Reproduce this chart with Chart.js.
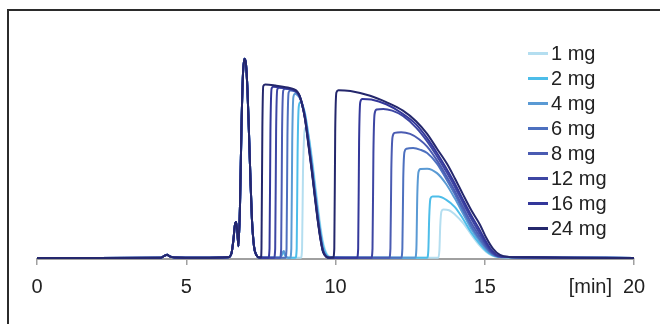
<!DOCTYPE html>
<html>
<head>
<meta charset="utf-8">
<script src="https://cdn.jsdelivr.net/npm/chart.js@4/dist/chart.umd.min.js"></script>
<style>
  html, body { margin: 0; padding: 0; background: #fff; }
  #wrap { position: relative; width: 660px; height: 324px; overflow: hidden; }
  #frame { position: absolute; left: 7px; top: 9px; right: -10px; bottom: -10px;
           border-top: 2px solid #2b2b2b; border-left: 2px solid #2b2b2b; }
  #legend { position: absolute; left: 528px; top: 41px; font: 20px "Liberation Sans", Arial, sans-serif; color: #222; }
  #legend .row { height: 25px; display: flex; align-items: center; }
  #legend .swatch { width: 20px; height: 3px; margin-right: 3px; }
</style>
</head>
<body>
<div id="wrap">
  <div id="frame"></div>
  <canvas id="chart" width="660" height="324"></canvas>
  <div id="legend"></div>
</div>
<script>
"use strict";

// ---------- Data ----------
const labels = ["1 mg", "2 mg", "4 mg", "6 mg", "8 mg", "12 mg", "16 mg", "24 mg"];
const colors = ["#b4def0", "#4dbde9", "#5a9ad4", "#4d70bf", "#4a5bb2", "#3d46a3", "#33379a", "#24276c"];
const xTicks = [0, 5, 10, 15, 20];

// shared start of every run (baseline + two early peaks), [min] / signal
const tEarly = [0, 2, 4.15, 4.28, 4.36, 4.45, 4.6, 5.5, 6.4, 6.52, 6.58, 6.63, 6.67, 6.71, 6.75, 6.8, 6.85, 6.9, 6.95, 7.0, 7.05, 7.1, 7.15, 7.2, 7.27, 7.35, 7.45];
const yEarly = [0.5, 0.5, 0.6, 1.6, 2.0, 1.2, 0.7, 0.6, 0.8, 3, 9, 16, 17.5, 13, 6, 25, 62, 87, 94.5, 92, 80, 60, 38, 19, 6, 1.8, 0.7];

// rest of each run: [time, signal]
const run1 = [[7.8,0.6],[8.15,0.6],[8.22,2.2],[8.27,2.5],[8.33,1.2],[8.4,0.6],[8.84,0.6],[8.88,5],[8.91,40],[8.95,58],[9.0,62],[9.1,58],[9.21,48],[9.31,36.5],[9.41,25],[9.5,15],[9.6,6.8],[9.7,2.6],[9.85,0.8],[11,0.6],[13.44,0.6],[13.48,4],[13.51,16],[13.55,22.5],[13.62,23.3],[13.8,23],[14.0,21],[14.27,17],[14.55,11.5],[14.84,6.2],[15.05,3.3],[15.25,1.6],[15.45,0.9],[15.8,0.7],[16.5,0.6],[18,0.6],[20,0.5]];
const run2 = [[7.8,0.6],[8.15,0.6],[8.22,2.6],[8.27,3],[8.33,1.3],[8.4,0.6],[8.66,0.6],[8.7,5],[8.73,50],[8.77,72],[8.83,74],[8.9,72.5],[8.98,68.5],[9.1,58],[9.21,46],[9.31,34],[9.41,22.5],[9.5,13],[9.6,5.5],[9.7,2],[9.85,0.7],[11,0.6],[13.07,0.6],[13.11,4],[13.14,20],[13.18,28.5],[13.25,29.5],[13.45,29.5],[13.7,28],[14.0,24.5],[14.27,19],[14.55,12.5],[14.84,7],[15.05,3.8],[15.25,1.8],[15.45,1.0],[15.8,0.8],[16.5,0.7],[18,0.6],[20,0.5]];
const run4 = [[7.8,0.6],[8.15,0.6],[8.22,3],[8.27,3.8],[8.33,1.5],[8.4,0.6],[8.48,0.6],[8.52,5],[8.55,55],[8.59,76.5],[8.65,78],[8.75,77],[8.82,75.5],[8.9,72],[8.98,67.5],[9.1,56],[9.21,44],[9.31,32],[9.41,20.5],[9.5,11.2],[9.58,4.8],[9.68,1.7],[9.8,0.7],[11,0.6],[12.67,0.6],[12.71,5],[12.74,30],[12.78,41],[12.85,42.5],[13.07,42.6],[13.4,40.5],[13.7,35.5],[14.0,28.5],[14.27,21.5],[14.55,14.2],[14.84,8.2],[15.05,4.5],[15.25,2.1],[15.45,1.1],[15.8,0.8],[16.5,0.7],[18,0.6],[20,0.5]];
const run6 = [[7.8,0.6],[8.32,0.6],[8.36,5],[8.39,58],[8.43,78.5],[8.49,79.5],[8.65,79],[8.75,77.8],[8.82,76],[8.9,72.5],[8.98,67],[9.1,55],[9.21,43],[9.31,31],[9.41,19.5],[9.5,10.5],[9.58,4.3],[9.68,1.5],[9.8,0.6],[11,0.6],[12.2,0.6],[12.24,5],[12.27,38],[12.31,50.5],[12.38,52],[12.6,52.3],[12.85,51.5],[13.07,50],[13.4,45],[13.7,38],[14.0,30.5],[14.27,23],[14.55,15.5],[14.84,9.2],[15.05,5.2],[15.25,2.4],[15.45,1.2],[15.8,0.9],[16.5,0.7],[18,0.6],[20,0.5]];
const run8 = [[7.8,0.6],[8.14,0.6],[8.18,5],[8.21,60],[8.25,79.5],[8.31,80.3],[8.6,79.5],[8.72,78.4],[8.8,76.5],[8.88,73],[8.98,66.5],[9.1,54.5],[9.21,42.5],[9.31,30.5],[9.41,19],[9.5,10],[9.58,4],[9.68,1.4],[9.8,0.6],[11,0.6],[11.8,0.6],[11.84,5],[11.87,42],[11.91,57.5],[11.98,59.5],[12.2,59.8],[12.5,59],[12.8,56.5],[13.07,53],[13.4,46.5],[13.7,39.5],[14.0,32],[14.27,24.5],[14.55,17],[14.84,10.5],[15.05,6],[15.25,2.8],[15.45,1.3],[15.8,0.9],[16.5,0.7],[18,0.6],[20,0.5]];
const run12 = [[7.8,0.6],[7.94,0.6],[7.98,5],[8.01,60],[8.05,80],[8.11,80.8],[8.4,80.3],[8.6,79.6],[8.72,78.5],[8.8,76.6],[8.88,73],[8.98,66.5],[9.1,54],[9.21,42],[9.31,30],[9.41,18.5],[9.5,9.6],[9.58,3.8],[9.68,1.3],[9.8,0.6],[11.2,0.6],[11.24,5],[11.27,50],[11.31,68.5],[11.38,70.5],[11.6,70.8],[11.9,70],[12.26,67.5],[12.7,62],[13.07,55.5],[13.4,48.5],[13.7,41.5],[14.0,34],[14.27,26.5],[14.55,19],[14.84,12],[15.05,7],[15.25,3.2],[15.45,1.4],[15.8,0.9],[16.5,0.7],[18,0.6],[20,0.5]];
const run16 = [[7.75,0.6],[7.79,5],[7.82,60],[7.86,80.5],[7.92,81.3],[8.4,80.5],[8.6,79.8],[8.72,78.7],[8.8,76.8],[8.88,73],[8.98,66],[9.1,53.5],[9.21,41.5],[9.31,29.5],[9.41,18],[9.5,9.3],[9.58,3.6],[9.68,1.2],[9.8,0.6],[10.72,0.6],[10.76,5],[10.79,55],[10.83,74],[10.9,75.5],[11.2,75.2],[11.7,73],[12.2,69],[12.7,63.5],[13.07,57],[13.4,50],[13.7,43],[14.0,35.5],[14.27,28],[14.55,20.5],[14.84,13.5],[15.05,8],[15.25,3.8],[15.45,1.6],[15.8,0.9],[16.5,0.8],[18,0.6],[20,0.5]];
const run24 = [[7.5,0.7],[7.52,5],[7.55,62],[7.58,81.5],[7.65,82.3],[8.0,81.8],[8.4,80.9],[8.6,80.1],[8.72,79],[8.8,77],[8.88,73],[8.98,66],[9.1,53],[9.21,41],[9.31,29],[9.41,17.6],[9.5,9],[9.58,3.5],[9.68,1.2],[9.8,0.6],[9.92,0.7],[9.96,5],[9.99,60],[10.03,78.5],[10.1,79.6],[10.5,79.2],[11.16,77],[11.7,74],[12.26,70],[12.7,65],[13.07,59],[13.4,52],[13.74,44.8],[14.0,38],[14.27,30.5],[14.55,23],[14.84,16.2],[15.05,10],[15.28,4.8],[15.51,1.9],[15.8,1.0],[16.5,0.8],[18,0.6],[20,0.5]];

const runs = [run1, run2, run4, run6, run8, run12, run16, run24];

// ---------- Helpers ----------
const FONT = '"Liberation Sans", Arial, sans-serif';

function points(run) {
  const start = tEarly.map((t, i) => ({ x: t, y: yEarly[i] }));
  return start.concat(run.map(([x, y]) => ({ x, y })));
}

// "[min]" unit label next to the last tick
const unitLabel = {
  id: "unitLabel",
  afterDraw(chart) {
    const sx = chart.scales.x;
    const ctx = chart.ctx;
    ctx.save();
    ctx.font = "20px " + FONT;
    ctx.fillStyle = "#222";
    ctx.textAlign = "right";
    ctx.textBaseline = "middle";
    ctx.fillText("[min]", sx.getPixelForValue(20) - 22, sx.top + 6 + 10 + 12);
    ctx.restore();
  },
};

// ---------- Chart ----------
new Chart(document.getElementById("chart"), {
  type: "line",
  data: {
    datasets: labels.map((label, i) => ({
      label,
      data: points(runs[i]),
      borderColor: colors[i],
      borderWidth: 2,
      pointRadius: 0,
      fill: false,
      cubicInterpolationMode: "monotone",
      order: labels.length - i,
    })),
  },
  options: {
    responsive: false,
    animation: false,
    devicePixelRatio: 1,
    layout: { padding: { left: 37, right: 26, top: 47, bottom: 15 } },
    plugins: { legend: { display: false }, tooltip: { enabled: false } },
    scales: {
      x: {
        type: "linear",
        min: 0,
        max: 20,
        afterBuildTicks: (axis) => { axis.ticks = xTicks.map((v) => ({ value: v })); },
        ticks: { font: { size: 20, family: FONT }, color: "#222", padding: 10, maxRotation: 0 },
        grid: { drawOnChartArea: false, drawTicks: true, tickLength: 6, color: "#a0a0a0", lineWidth: 1.5 },
        border: { display: true, color: "#a0a0a0", width: 2 },
      },
      y: { display: false, min: 0, max: 100 },
    },
  },
  plugins: [unitLabel],
});

// ---------- Legend ----------
document.getElementById("legend").innerHTML = labels
  .map((l, i) => `<div class="row"><span class="swatch" style="background:${colors[i]}"></span>${l}</div>`)
  .join("");
</script>
</body>
</html>
